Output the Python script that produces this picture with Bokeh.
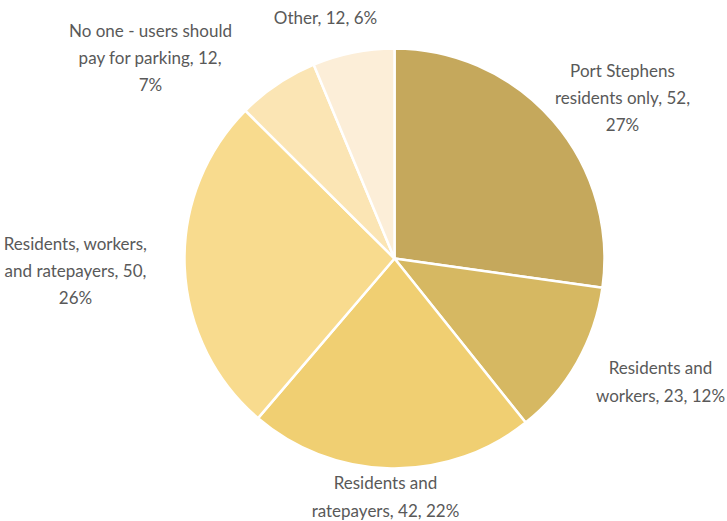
import numpy as np
from bokeh.plotting import figure
from bokeh.models import Range1d, ColumnDataSource
from bokeh.core.properties import value
from bokeh.embed import file_html
from bokeh.resources import INLINE

# ---- data ----
categories = ["Port Stephens residents only", "Residents and workers",
              "Residents and ratepayers", "Residents, workers, and ratepayers",
              "No one - users should pay for parking", "Other"]
counts = [52, 23, 42, 50, 12, 12]
labels = ["Port Stephens\nresidents only, 52,\n27%",
          "Residents and\nworkers, 23, 12%",
          "Residents and\nratepayers, 42, 22%",
          "Residents, workers,\nand ratepayers, 50,\n26%",
          "No one - users should\npay for parking, 12,\n7%",
          "Other, 12, 6%"]
colors = ["#C5A85C", "#D6B862", "#F0CF72", "#F8DB8E", "#FBE5B4", "#FCEED8"]

# ---- layout (picture pixel coordinates) ----
W, H = 727, 521
cx_pic, cy_pic, radius = 394, 258, 210
label_x_pic = [622, 660, 385, 75, 150, 325]
label_y_pic = [97, 381, 496, 270, 57, 17]

def py(y):  # picture y -> data y (upward axis)
    return H - y

vals = np.array(counts, dtype=float)
frac = vals / vals.sum()
cum = np.concatenate([[0], np.cumsum(frac)])
start = np.pi / 2 - cum[:-1] * 2 * np.pi
end = np.pi / 2 - cum[1:] * 2 * np.pi

src = ColumnDataSource(dict(start=start, end=end, color=colors, cat=categories))

p = figure(width=W, height=H, output_backend="svg", toolbar_location=None,
           x_range=Range1d(0, W), y_range=Range1d(0, H),
           min_border=0, outline_line_color=None, background_fill_color="white",
           border_fill_color="white")
p.axis.visible = False
p.grid.visible = False

p.wedge(x=cx_pic, y=py(cy_pic), radius=radius, start_angle="start", end_angle="end",
        direction="clock", fill_color="color", line_color="white", line_width=2.5,
        source=src)

tsrc = ColumnDataSource(dict(x=label_x_pic, y=[py(v) for v in label_y_pic], t=labels))
p.text(x="x", y="y", text="t", source=tsrc, text_align="center", text_baseline="middle",
       text_font=value("Lato"), text_font_size="17px", text_color="#595959",
       text_line_height=1.3)

open("out.html", "w").write(file_html(p, INLINE))
